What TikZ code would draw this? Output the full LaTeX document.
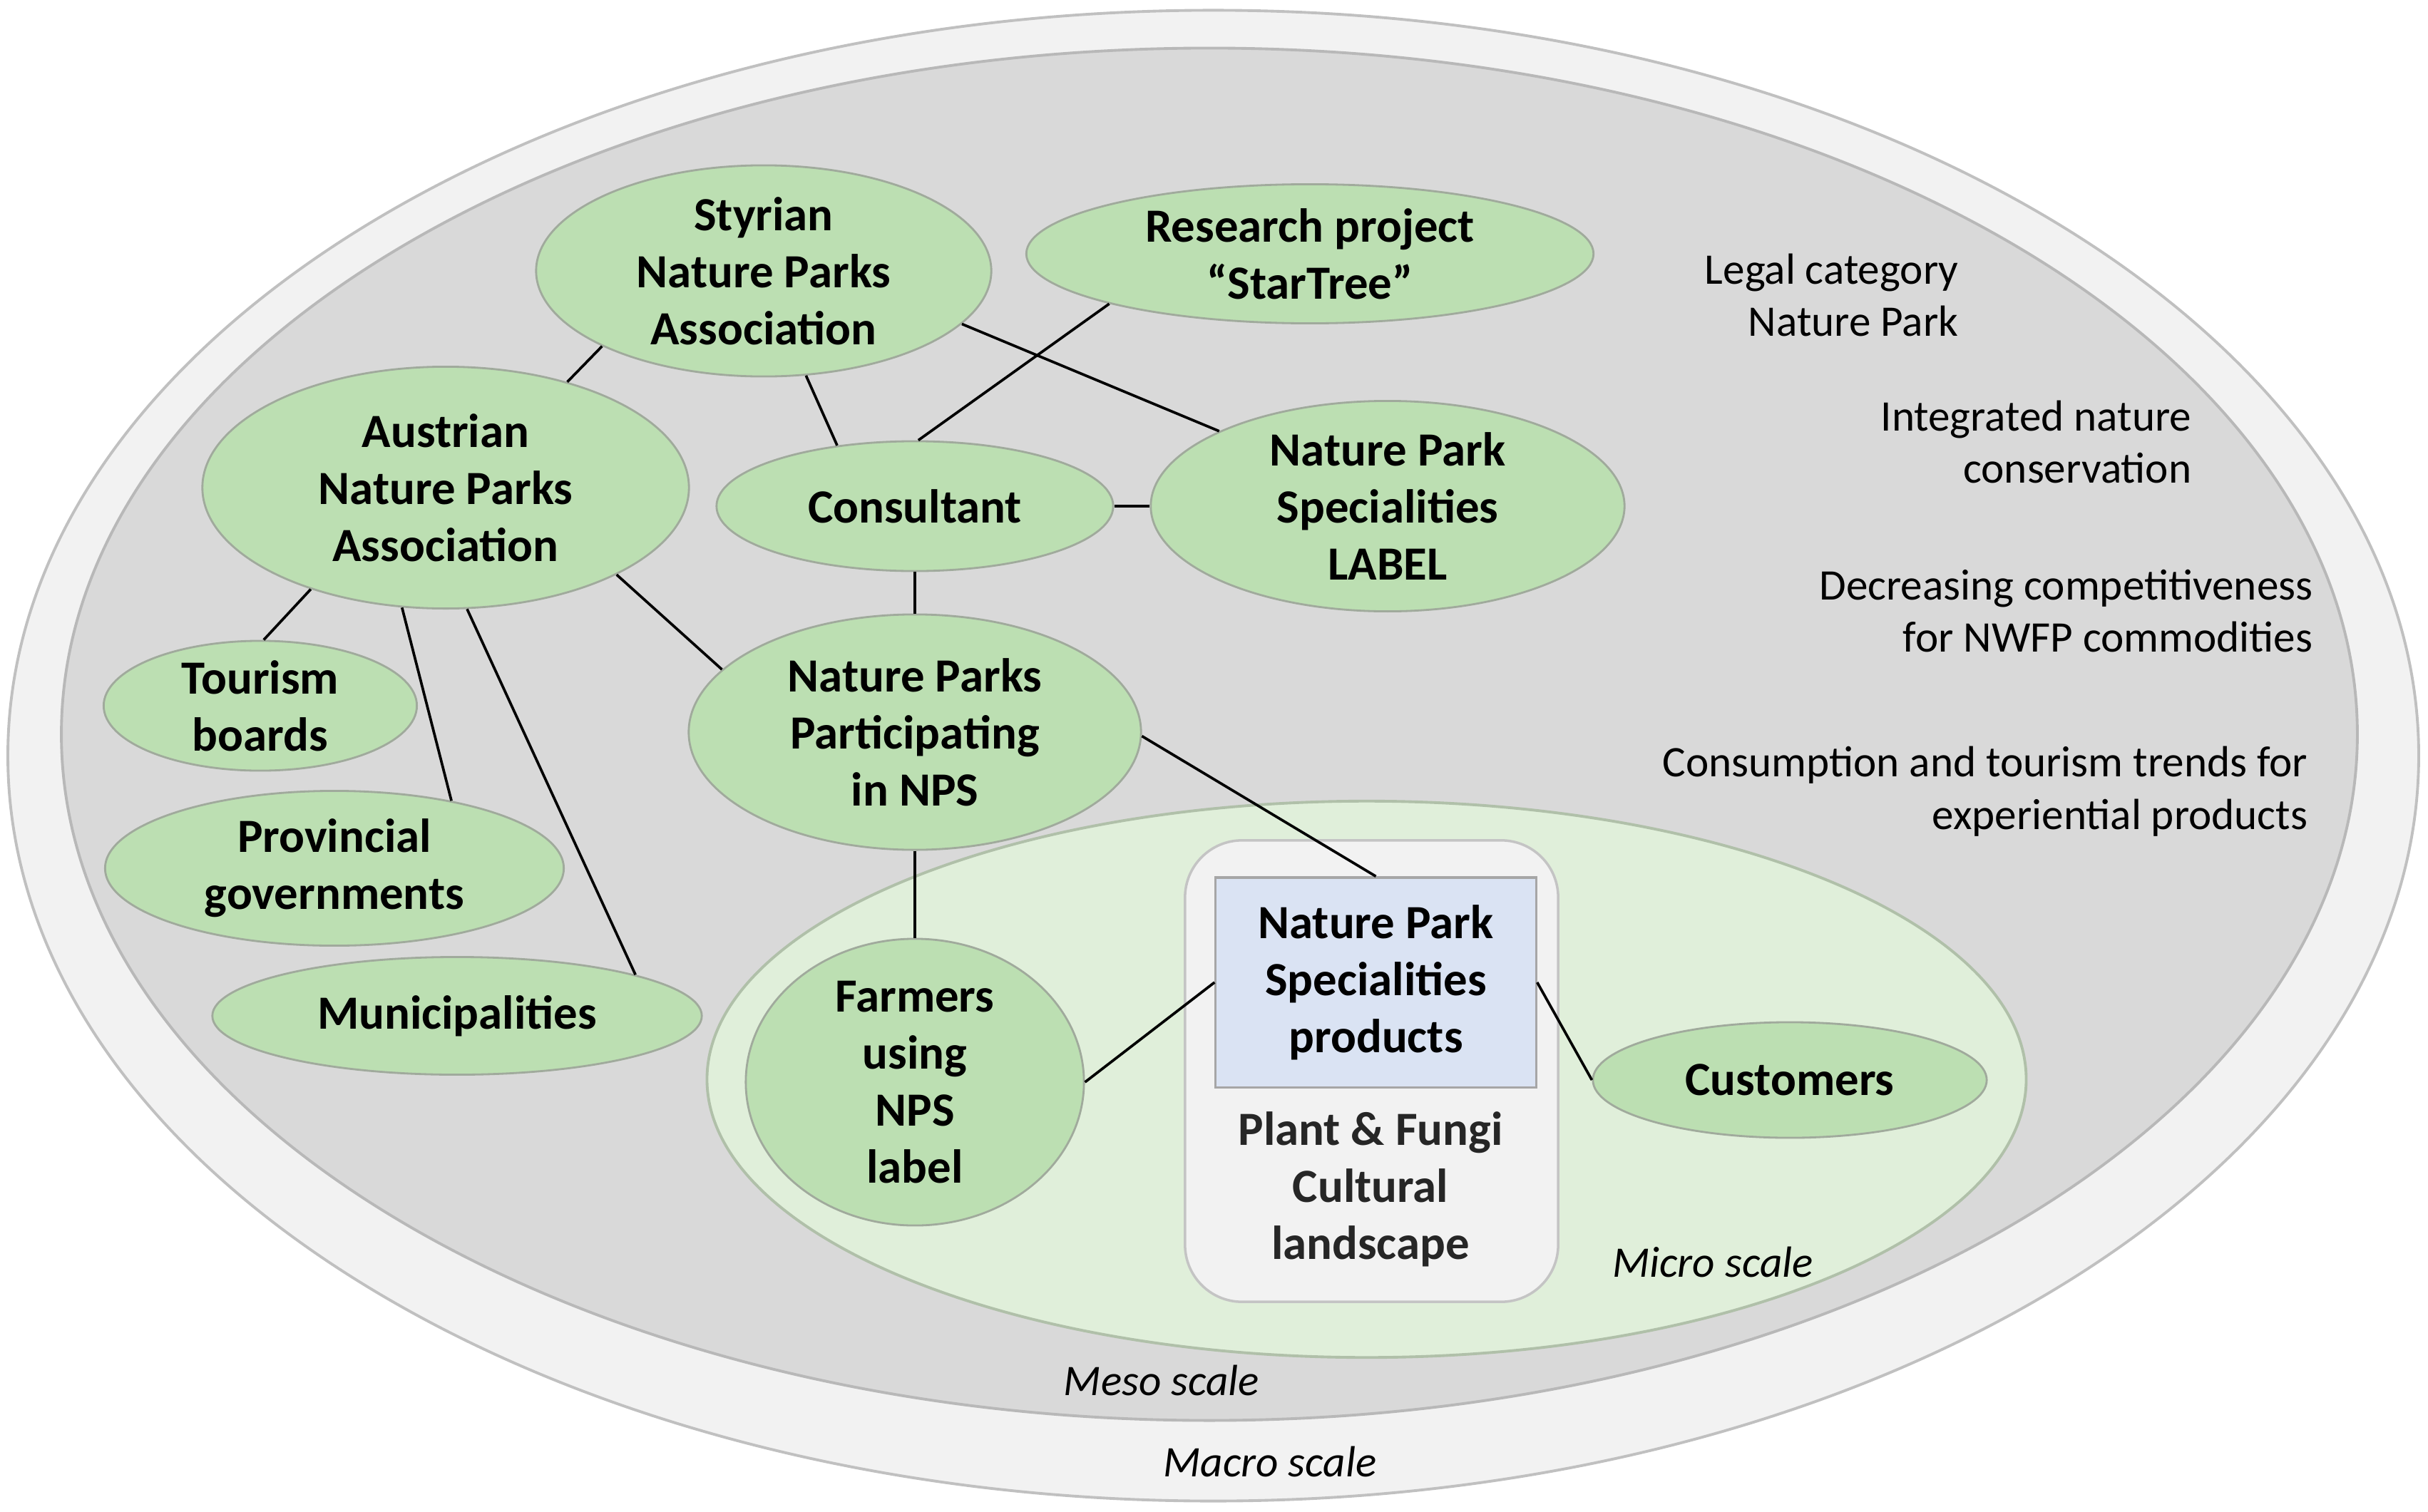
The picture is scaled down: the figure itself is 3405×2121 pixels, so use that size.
\documentclass[tikz,border=0pt]{standalone}
\usepackage{fontspec}
\setmainfont{Carlito}
\usetikzlibrary{shapes.geometric}
\definecolor{macrofill}{HTML}{F2F2F2}
\definecolor{macroline}{HTML}{C0C0C0}
\definecolor{mesofill}{HTML}{D9D9D9}
\definecolor{mesoline}{HTML}{B8B8B8}
\definecolor{microfill}{HTML}{E0EFDA}
\definecolor{microline}{HTML}{B0C0A9}
\definecolor{nodegreen}{RGB}{188,223,178}
\definecolor{nodeline}{HTML}{A0AA9C}
\definecolor{bluefill}{HTML}{DAE3F3}
\definecolor{blueline}{HTML}{A6A6A6}
\definecolor{framefill}{HTML}{F2F2F2}
\definecolor{frameline}{HTML}{C4C4C4}
\definecolor{darktext}{HTML}{262626}
\newcommand{\ndfont}{\fontsize{19}{22.8}\selectfont\bfseries}
\newcommand{\sdfont}{\fontsize{17.4}{21}\selectfont}
\begin{document}
\begin{tikzpicture}[x=0.01cm,y=-0.01cm,
  zone/.style={line width=1.1pt},
  grnode/.style={ellipse, draw=nodeline, fill=nodegreen, line width=0.8pt, inner sep=0pt, align=center, font=\ndfont},
  bluebox/.style={rectangle, draw=blueline, fill=bluefill, line width=0.9pt, inner sep=0pt, align=center, font=\ndfont},
  framebox/.style={rectangle, rounded corners=0.8cm, draw=frameline, fill=framefill, line width=1pt, inner sep=0pt},
  link/.style={line width=1.05pt, draw=black},
  sidetext/.style={anchor=east, align=right, inner sep=0pt, font=\sdfont},
  scalelabel/.style={inner sep=0pt, font=\sdfont\itshape},
]
\useasboundingbox (0,0) rectangle (3405,2121);
% scale zones
\draw[zone, draw=macroline, fill=macrofill] (1701.5,1060) ellipse [x radius=16.895cm, y radius=10.45cm];
\draw[zone, draw=mesoline, fill=mesofill] (1696,1030) ellipse [x radius=16.09cm, y radius=9.62cm];
\draw[zone, draw=microline, fill=microfill] (1916.5,1514) ellipse [x radius=9.245cm, y radius=3.9cm];
\node[framebox, minimum width=5.23cm, minimum height=6.47cm] (frame) at (1923.5,1502.5) {};

% nodes
\node[grnode, minimum width=6.38cm, minimum height=2.96cm] (sty) at (1071,380) {Styrian\\Nature Parks\\Association};
\node[grnode, minimum width=7.95cm, minimum height=1.95cm] (res) at (1837,356) {Research project\\\char"201CStarTree\char"201D};
\node[grnode, minimum width=6.82cm, minimum height=3.39cm] (aus) at (625,684) {Austrian\\Nature Parks\\Association};
\node[grnode, minimum width=5.56cm, minimum height=1.82cm] (con) at (1283,710) {Consultant};
\node[grnode, minimum width=6.64cm, minimum height=2.95cm] (lab) at (1946,710) {Nature Park\\Specialities\\LABEL};
\node[grnode, minimum width=6.34cm, minimum height=3.30cm] (par) at (1283,1027) {Nature Parks\\Participating\\in NPS};
\node[grnode, minimum width=4.39cm, minimum height=1.82cm] (tou) at (365,990) {Tourism\\boards};
\node[grnode, minimum width=6.43cm, minimum height=2.17cm] (pro) at (469,1218) {Provincial\\governments};
\node[grnode, minimum width=6.86cm, minimum height=1.65cm] (mun) at (641,1425) {Municipalities};
\node[grnode, minimum width=4.74cm, minimum height=3.77cm] (far) at (1283,1518) {Farmers\\using\\NPS\\label};
\node[grnode, minimum width=5.52cm, minimum height=1.62cm] (cus) at (2510,1515) {Customers};
\node[bluebox, minimum width=4.49cm, minimum height=2.94cm] (blue) at (1929.5,1378) {Nature Park\\Specialities\\products};
\node[inner sep=0pt, align=center, font=\ndfont, text=darktext] (plant) at (1922,1668) {Plant \& Fungi\\Cultural\\landscape};

% side texts
\node[sidetext] (legal) at (2747,414) {Legal category\\Nature Park};
\node[sidetext] (integ) at (3074,620) {Integrated nature\\conservation};
\node[sidetext] (decr) at (3244,857) {Decreasing competitiveness\\for NWFP commodities};
\node[sidetext] (trend) at (3237,1110) {Consumption and tourism trends for\\experiential products};

% scale labels
\node[scalelabel] (micro) at (2402,1770) {Micro scale};
\node[scalelabel] (meso) at (1629,1936) {Meso scale};
\node[scalelabel] (macro) at (1781,2050) {Macro scale};

% connectors
\draw[link] (sty.205) -- (aus.41.5);
\draw[link] (sty.-68) -- (con.142);
\draw[link] (sty.-15) -- (lab.156);
\draw[link] (res.194) -- (con.87);
\draw[link] (con.east) -- (lab.west);
\draw[link] (con.south) -- (par.north);
\draw[link] (aus.-27) -- (par.162);
\draw[link] (aus.-143) -- (tou.87);
\draw[link] (aus.-110) -- (pro.30.5);
\draw[link] (aus.-80) -- (mun.13.6);
\draw[link] (par.-1) -- (blue.north);
\draw[link] (par.south) -- (far.north);
\draw[link] (far.east) -- (blue.west);
\draw[link] (blue.east) -- (cus.west);
\end{tikzpicture}
\end{document}
